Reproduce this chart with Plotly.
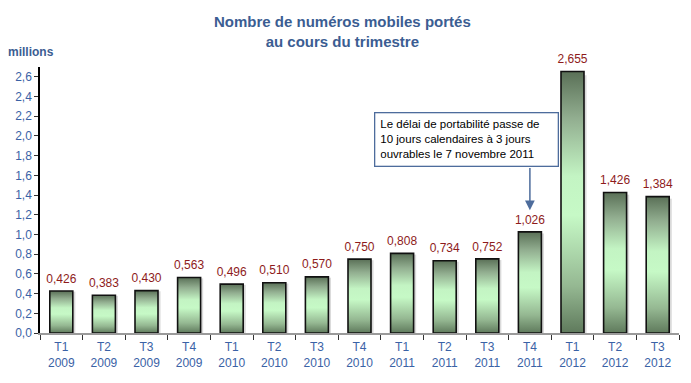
import plotly.graph_objects as go

quarters = ["T1", "T2", "T3", "T4", "T1", "T2", "T3", "T4", "T1", "T2", "T3", "T4", "T1", "T2", "T3"]
years = ["2009", "2009", "2009", "2009", "2010", "2010", "2010", "2010",
         "2011", "2011", "2011", "2011", "2012", "2012", "2012"]
values = [0.426, 0.383, 0.430, 0.563, 0.496, 0.510, 0.570, 0.750,
          0.808, 0.734, 0.752, 1.026, 2.655, 1.426, 1.384]
y_ticks = [0.0, 0.2, 0.4, 0.6, 0.8, 1.0, 1.2, 1.4, 1.6, 1.8, 2.0, 2.2, 2.4, 2.6]

tick_labels = [f"{q}<br>{y}" for q, y in zip(quarters, years)]
xs = list(range(len(values)))
half = 0.27

BLUE = "#3a62a6"
TITLE_BLUE = "#3b5d92"
FONT = "Liberation Sans"

grad = [[0.0, "#5f7a5c"], [0.18, "#95b892"], [0.45, "#c6f9c6"],
        [0.6, "#c3f4c3"], [0.82, "#92ae90"], [1.0, "#5a7057"]]

fig = go.Figure()

for x, v in zip(xs, values):
    # soft shadow on the right side
    fig.add_trace(go.Scatter(
        x=[x + half, x + half + 0.06, x + half + 0.06, x + half],
        y=[0, 0, v * 0.985, v * 0.985],
        fill="toself", fillcolor="rgba(150,150,150,0.35)",
        mode="lines", line=dict(width=0), hoverinfo="skip", showlegend=False))
    fig.add_trace(go.Scatter(
        x=[x - half, x - half, x + half, x + half, x - half],
        y=[0, v, v, 0, 0],
        fill="toself",
        fillgradient=dict(type="vertical", colorscale=grad),
        mode="lines", line=dict(color="#111111", width=1.6),
        hoverinfo="skip", showlegend=False))

fig.add_trace(go.Scatter(
    x=xs, y=values, mode="markers+text",
    marker=dict(size=7, color="rgba(0,0,0,0)"),
    text=[f"{v:.3f}".replace(".", ",") for v in values],
    textposition="top center",
    textfont=dict(family=FONT, size=12, color="#8e1b1b"),
    cliponaxis=False,
    hoverinfo="skip", showlegend=False))

fig.update_layout(
    width=691, height=383,
    margin=dict(l=40, r=12, t=67, b=50),
    paper_bgcolor="white", plot_bgcolor="white",
    separators=", ",
    font=dict(family=FONT, color=BLUE),
    showlegend=False,
    xaxis=dict(
        range=[-0.5, len(values) - 0.5],
        tickmode="array", tickvals=xs, ticktext=tick_labels,
        ticks="", showgrid=False, zeroline=False,
        showline=True, linecolor="#9a9a9a", linewidth=1.5,
        tickfont=dict(family=FONT, size=12, color=BLUE),
        ticklabelstandoff=2,
        minor=dict(tick0=0.5, dtick=1, ticks="outside", ticklen=5,
                   tickcolor="#333333", tickwidth=1, showgrid=False),
        fixedrange=True),
    yaxis=dict(
        range=[0, 2.7],
        tickmode="array", tickvals=y_ticks,
        ticktext=[f"{t:.1f}".replace(".", ",") for t in y_ticks],
        ticks="outside", ticklen=4, tickcolor="#333333",
        showgrid=False, zeroline=False,
        showline=True, linecolor="black", linewidth=1.5,
        tickfont=dict(family=FONT, size=12, color=BLUE),
        fixedrange=True),
)

# title
fig.add_annotation(
    xref="paper", yref="paper", x=0.474, y=1, yshift=56,
    xanchor="center", yanchor="top",
    text="<b>Nombre de numéros mobiles portés<br>au cours du trimestre</b>",
    showarrow=False, font=dict(family=FONT, size=15, color=TITLE_BLUE))

fig.add_annotation(
    xref="paper", yref="paper", x=-0.053, y=1, yshift=15,
    xanchor="left", yanchor="middle",
    text="<b>millions</b>", showarrow=False,
    font=dict(family=FONT, size=12, color=TITLE_BLUE))

fig.add_annotation(
    x=11, y=1.245, xref="x", yref="y",
    ax=11, ay=1.69, axref="x", ayref="y",
    showarrow=True, arrowhead=2, arrowsize=1.3, arrowwidth=1.5,
    arrowcolor="#4d6c9c", text="")

fig.add_annotation(
    x=9.5, y=1.968, xref="x", yref="y", xanchor="center", yanchor="middle",
    text="Le délai de portabilité passe de<br>10 jours calendaires à 3 jours<br>ouvrables le 7 novembre 2011",
    align="left", showarrow=False,
    font=dict(family=FONT, size=11.5, color="black"),
    bgcolor="white", bordercolor="#4d6c9c", borderwidth=1.3,
    borderpad=5, width=172)

fig.write_html("out.html", config={"displayModeBar": False},
               post_script="document.body.style.margin='0';")
